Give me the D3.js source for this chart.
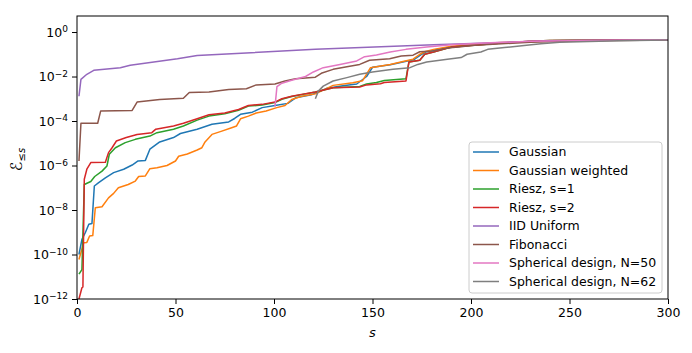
<!DOCTYPE html>
<html>
<head>
<meta charset="utf-8">
<script src="https://cdn.jsdelivr.net/npm/d3@7"></script>
<style>
  body { margin: 0; background: #fff; }
  svg text { font-family: "DejaVu Sans", sans-serif; fill: #000; }
</style>
</head>
<body>
<svg id="chart" width="692" height="353"></svg>
<script>
// keypoints: s position and the value there
var sGauss = [1, 2.5, 4.2, 6, 7.6, 8.8, 11, 14.4, 18.6, 23.7, 28, 31, 34.7, 37, 42, 49, 52.5, 61, 68.5, 77, 80, 83, 89, 94, 100.5, 107, 111, 119, 127, 135, 142, 147, 150, 159, 166, 171, 174.5, 177, 182, 192, 210, 240, 300]
var vGauss = [1.0e-10, 4.8e-10, 9.5e-10, 2.3e-9, 2.5e-9, 1.2e-7, 1.7e-7, 2.8e-7, 4.8e-7, 6.8e-7, 1.05e-6, 1.6e-6, 1.7e-6, 5.4e-6, 1.15e-5, 1.8e-5, 2.75e-5, 4.3e-5, 7.1e-5, 9.1e-5, 1.3e-4, 2.0e-4, 2.5e-4, 4.0e-4, 5.0e-4, 6.2e-4, 1.1e-3, 1.5e-3, 3.0e-3, 3.8e-3, 4.6e-3, 1.0e-2, 2.6e-2, 3.4e-2, 4.6e-2, 5.8e-2, 9.5e-2, 0.125, 0.16, 0.22, 0.31, 0.40, 0.45]

var sGaussW = [1, 3.4, 5, 6.4, 8, 9.3, 12.7, 16, 18.6, 21, 26, 29.6, 31.3, 34.7, 37, 40.6, 45.7, 50, 51.6, 56, 61, 63.4, 65, 68.5, 73.5, 78.5, 81, 83, 87, 91, 96, 101.4, 105.6, 109, 114, 121, 130, 140, 145, 149, 159, 165.5, 170.6, 174, 176.5, 181, 190, 210, 240, 300]
var vGaussW = [6.0e-11, 3.4e-10, 3.5e-10, 6.8e-10, 7.1e-10, 1.26e-8, 1.4e-8, 3.5e-8, 5.6e-8, 1.0e-7, 1.4e-7, 2.0e-7, 3.2e-7, 3.4e-7, 7.2e-7, 7.9e-7, 1.0e-6, 1.6e-6, 2.6e-6, 3.3e-6, 5.0e-6, 6.3e-6, 1.15e-5, 2.5e-5, 3.5e-5, 5.0e-5, 6.0e-5, 1.26e-4, 1.66e-4, 2.3e-4, 2.8e-4, 4.0e-4, 5.0e-4, 9.3e-4, 1.3e-3, 1.66e-3, 4.0e-3, 5.2e-3, 6.5e-3, 2.5e-2, 3.5e-2, 4.7e-2, 6.0e-2, 0.10, 0.13, 0.166, 0.23, 0.32, 0.40, 0.45]

var sRiesz1 = [1, 2.5, 3.7, 7, 9, 12.7, 15.2, 16.4, 19.5, 24.5, 29.6, 37, 40.6, 49, 54, 61, 67, 75, 82, 87, 94, 100.5, 104, 109, 116, 121, 130, 143.5, 147, 152, 156, 167, 168.5, 174, 176.5, 181, 190, 200, 214, 230, 240, 300]
var vRiesz1 = [1.3e-11, 2.1e-11, 1.4e-7, 1.9e-7, 3.2e-7, 5.6e-7, 9.5e-7, 3.2e-6, 6.3e-6, 1.07e-5, 1.5e-5, 2.1e-5, 3.0e-5, 4.3e-5, 6.0e-5, 1.1e-4, 1.66e-4, 2.1e-4, 3.0e-4, 4.7e-4, 5.2e-4, 6.8e-4, 9.5e-4, 1.26e-3, 1.66e-3, 2.0e-3, 3.1e-3, 3.6e-3, 4.6e-3, 5.4e-3, 6.6e-3, 8.0e-3, 4.5e-2, 5.4e-2, 0.10, 0.126, 0.21, 0.25, 0.31, 0.38, 0.42, 0.45]

var sRiesz2 = [1, 2.5, 3, 3.7, 5, 7, 14.4, 16, 17.8, 20, 25, 30.5, 38, 40, 49, 54, 61, 67, 75, 82, 87, 94, 100.5, 104, 109, 116, 121, 130, 143.5, 147, 154, 156, 167, 168.5, 174, 176.5, 181, 190, 200, 214, 230, 240, 300]
var vRiesz2 = [1.0e-12, 3.2e-12, 3.5e-12, 2.4e-7, 6.8e-7, 1.35e-6, 1.4e-6, 3.8e-6, 6.3e-6, 1.26e-5, 1.8e-5, 2.5e-5, 3.0e-5, 4.3e-5, 6.0e-5, 7.9e-5, 1.26e-4, 1.9e-4, 2.3e-4, 3.3e-4, 5.0e-4, 5.6e-4, 7.1e-4, 1.0e-3, 1.3e-3, 1.7e-3, 2.0e-3, 3.1e-3, 3.4e-3, 4.2e-3, 4.7e-3, 5.4e-3, 6.3e-3, 4.5e-2, 5.4e-2, 0.10, 0.126, 0.21, 0.25, 0.31, 0.38, 0.42, 0.45]

var sIID = [1, 2, 5, 8.5, 22, 27, 51, 61, 121, 181, 240, 300]
var vIID = [1.3e-3, 7.4e-3, 1.26e-2, 1.9e-2, 2.5e-2, 3.2e-2, 6.3e-2, 8.9e-2, 0.166, 0.27, 0.40, 0.45]

var sFib = [1, 2, 10.5, 12, 28, 30.5, 42, 54, 57, 67, 77, 86, 91, 100.5, 105.6, 111, 121, 124, 130, 137, 143.5, 148.5, 158.7, 164.6, 170.6, 174, 181, 188, 195, 200, 230, 260, 300]
var vFib = [1.6e-6, 7.9e-5, 7.9e-5, 2.8e-4, 3.0e-4, 7.1e-4, 9.3e-4, 1.05e-3, 1.9e-3, 2.0e-3, 2.6e-3, 2.8e-3, 4.2e-3, 4.6e-3, 6.3e-3, 7.9e-3, 9.3e-3, 1.4e-2, 2.1e-2, 2.75e-2, 3.5e-2, 5.4e-2, 6.3e-2, 8.3e-2, 9.1e-2, 0.13, 0.14, 0.19, 0.22, 0.25, 0.35, 0.41, 0.44]

var sSph50 = [100.5, 101.5, 104, 109, 116, 120, 125, 133.5, 142, 146, 152, 159, 167, 177.5, 190, 210, 230, 260, 300]
var vSph50 = [4.4e-4, 3.5e-3, 5.0e-3, 6.8e-3, 1.0e-2, 1.6e-2, 2.5e-2, 3.5e-2, 5.0e-2, 7.8e-2, 9.3e-2, 0.126, 0.166, 0.21, 0.27, 0.33, 0.38, 0.42, 0.45]

var sSph62 = [121, 122.5, 125, 130, 137, 143.5, 150, 160.4, 169, 173, 177.5, 188, 195, 198, 205, 208.5, 217, 227, 235.5, 245, 275, 300]
var vSph62 = [1.0e-3, 2.2e-3, 3.7e-3, 6.3e-3, 8.9e-3, 1.26e-2, 1.6e-2, 2.1e-2, 2.5e-2, 3.5e-2, 4.5e-2, 5.9e-2, 7.1e-2, 0.10, 0.126, 0.166, 0.20, 0.25, 0.30, 0.35, 0.41, 0.44]

var seriesNames = ["Gaussian", "Gaussian weighted", "Riesz, s=1", "Riesz, s=2", "IID Uniform", "Fibonacci", "Spherical design, N=50", "Spherical design, N=62"]
var seriesS = [sGauss, sGaussW, sRiesz1, sRiesz2, sIID, sFib, sSph50, sSph62]
var seriesV = [vGauss, vGaussW, vRiesz1, vRiesz2, vIID, vFib, vSph50, vSph62]
var colors = ["#1f77b4", "#ff7f0e", "#2ca02c", "#d62728", "#9467bd", "#8c564b", "#e377c2", "#7f7f7f"]

var xTicks = [0, 50, 100, 150, 200, 250, 300]
var yTickExps = [0, -2, -4, -6, -8, -10, -12]

var width = 692, height = 353
var margin = {top: 16, right: 24, bottom: 54, left: 77}
var iw = width - margin.left - margin.right
var ih = height - margin.top - margin.bottom

var svg = d3.select("#chart")
var g = svg.append("g").attr("transform", "translate(" + margin.left + "," + margin.top + ")")

var x = d3.scaleLinear().domain([0, 300]).range([0, iw])
var y = d3.scaleLog().domain([1e-12, Math.pow(10, 0.72)]).range([ih, 0])

g.append("clipPath").attr("id", "clip")
  .append("rect").attr("width", iw).attr("height", ih)

var line = d3.line()
  .x(function(d) { return x(d[0]) })
  .y(function(d) { return y(d[1]) })

var plot = g.append("g").attr("clip-path", "url(#clip)")
seriesS.forEach(function(s, i) {
  var pts = s.map(function(v, j) { return [v, seriesV[i][j]] })
  plot.append("path")
    .datum(pts)
    .attr("fill", "none")
    .attr("stroke", colors[i])
    .attr("stroke-width", 1.5)
    .attr("stroke-linejoin", "round")
    .attr("d", line)
})

// axes
var xAxis = g.append("g")
  .attr("transform", "translate(0," + ih + ")")
  .call(d3.axisBottom(x).tickValues(xTicks).tickSize(5).tickPadding(4))
var yAxis = g.append("g")
  .call(d3.axisLeft(y).tickValues(yTickExps.map(function(e) { return Math.pow(10, e) })).tickSize(5).tickPadding(4).tickFormat(""))

;[xAxis, yAxis].forEach(function(a) {
  a.select(".domain").remove()
  a.selectAll(".tick line").attr("stroke", "#000").attr("stroke-width", 1)
})
xAxis.selectAll(".tick text").attr("font-size", 12.5).attr("fill", "#000")
  .attr("font-family", "DejaVu Sans")

yAxis.selectAll(".tick").each(function(d, i) {
  var t = d3.select(this).append("text")
    .attr("x", -9).attr("dy", "0.32em")
    .attr("text-anchor", "end")
    .attr("font-size", 12.5)
  t.append("tspan").text("10")
  t.append("tspan").attr("dy", "-0.45em").attr("font-size", 9).text("\u2212".repeat(yTickExps[i] < 0 ? 1 : 0) + Math.abs(yTickExps[i]))
})

// frame
g.append("rect")
  .attr("width", iw).attr("height", ih)
  .attr("fill", "none").attr("stroke", "#000").attr("stroke-width", 1)

// axis labels
svg.append("text")
  .attr("x", margin.left + iw / 2).attr("y", 337)
  .attr("text-anchor", "middle").attr("font-size", 13).attr("font-style", "italic")
  .text("s")

var yl = svg.append("text")
  .attr("transform", "translate(22," + (margin.top + ih / 2 + 2) + ") rotate(-90)")
  .attr("text-anchor", "middle").attr("font-size", 16)
yl.append("tspan").attr("font-style", "italic").text("\u2130")
yl.append("tspan").attr("dy", 3).attr("font-size", 10).text("\u2264")
yl.append("tspan").attr("font-size", 10).attr("font-style", "italic").text("s")

// legend
var lg = svg.append("g").attr("transform", "translate(469,142)")
lg.append("rect")
  .attr("width", 193).attr("height", 151).attr("rx", 3)
  .attr("fill", "#fff").attr("fill-opacity", 0.8)
  .attr("stroke", "#ccc").attr("stroke-width", 1)
seriesNames.forEach(function(name, i) {
  var yy = 10 + i * 18.5
  lg.append("line")
    .attr("x1", 4).attr("x2", 30).attr("y1", yy).attr("y2", yy)
    .attr("stroke", colors[i]).attr("stroke-width", 1.5)
  lg.append("text")
    .attr("x", 40).attr("y", yy).attr("dy", "0.35em")
    .attr("font-size", 12.5)
    .text(name)
})
</script>
</body>
</html>
